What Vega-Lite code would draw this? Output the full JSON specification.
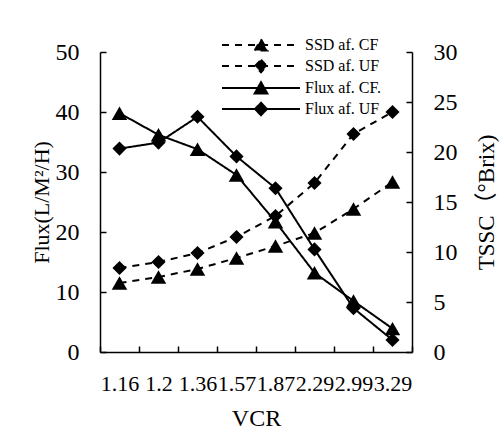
{
  "$schema": "https://vega.github.io/schema/vega-lite/v6.json",
  "width": 312,
  "height": 300,
  "autosize": {"type": "none"},
  "padding": {"left": 100, "top": 52, "right": 88, "bottom": 85},
  "background": "white",
  "data": {
    "values": [
      {"vcr": "1.16", "series": "Flux af. CF.", "axis": "Flux", "value": 39.8},
      {"vcr": "1.2", "series": "Flux af. CF.", "axis": "Flux", "value": 36.2},
      {"vcr": "1.36", "series": "Flux af. CF.", "axis": "Flux", "value": 33.8},
      {"vcr": "1.57", "series": "Flux af. CF.", "axis": "Flux", "value": 29.5},
      {"vcr": "1.87", "series": "Flux af. CF.", "axis": "Flux", "value": 21.7},
      {"vcr": "2.29", "series": "Flux af. CF.", "axis": "Flux", "value": 13.2},
      {"vcr": "2.99", "series": "Flux af. CF.", "axis": "Flux", "value": 8.5},
      {"vcr": "3.29", "series": "Flux af. CF.", "axis": "Flux", "value": 3.9},
      {"vcr": "1.16", "series": "Flux af. UF", "axis": "Flux", "value": 33.9},
      {"vcr": "1.2", "series": "Flux af. UF", "axis": "Flux", "value": 34.9},
      {"vcr": "1.36", "series": "Flux af. UF", "axis": "Flux", "value": 39.2},
      {"vcr": "1.57", "series": "Flux af. UF", "axis": "Flux", "value": 32.6},
      {"vcr": "1.87", "series": "Flux af. UF", "axis": "Flux", "value": 27.3},
      {"vcr": "2.29", "series": "Flux af. UF", "axis": "Flux", "value": 17.1},
      {"vcr": "2.99", "series": "Flux af. UF", "axis": "Flux", "value": 7.3},
      {"vcr": "3.29", "series": "Flux af. UF", "axis": "Flux", "value": 2.0},
      {"vcr": "1.16", "series": "SSD af. CF", "axis": "SSD", "value": 6.9},
      {"vcr": "1.2", "series": "SSD af. CF", "axis": "SSD", "value": 7.5},
      {"vcr": "1.36", "series": "SSD af. CF", "axis": "SSD", "value": 8.3},
      {"vcr": "1.57", "series": "SSD af. CF", "axis": "SSD", "value": 9.4},
      {"vcr": "1.87", "series": "SSD af. CF", "axis": "SSD", "value": 10.6},
      {"vcr": "2.29", "series": "SSD af. CF", "axis": "SSD", "value": 11.9},
      {"vcr": "2.99", "series": "SSD af. CF", "axis": "SSD", "value": 14.3},
      {"vcr": "3.29", "series": "SSD af. CF", "axis": "SSD", "value": 17.0},
      {"vcr": "1.16", "series": "SSD af. UF", "axis": "SSD", "value": 8.4},
      {"vcr": "1.2", "series": "SSD af. UF", "axis": "SSD", "value": 9.0},
      {"vcr": "1.36", "series": "SSD af. UF", "axis": "SSD", "value": 9.9},
      {"vcr": "1.57", "series": "SSD af. UF", "axis": "SSD", "value": 11.5},
      {"vcr": "1.87", "series": "SSD af. UF", "axis": "SSD", "value": 13.6},
      {"vcr": "2.29", "series": "SSD af. UF", "axis": "SSD", "value": 16.9},
      {"vcr": "2.99", "series": "SSD af. UF", "axis": "SSD", "value": 21.8},
      {"vcr": "3.29", "series": "SSD af. UF", "axis": "SSD", "value": 24.0}
    ]
  },
  "encoding": {
    "x": {
      "field": "vcr",
      "type": "ordinal",
      "sort": null,
      "bandPosition": 0.5,
      "scale": {"type": "band", "paddingInner": 0, "paddingOuter": 0},
      "axis": {
        "title": "VCR",
        "tickBand": "extent",
        "labelAngle": 0,
        "labelOverlap": false,
        "labelFontSize": 22,
        "labelPadding": 27,
        "titleFontSize": 24,
        "titlePadding": 12
      }
    }
  },
  "layer": [
    {
      "transform": [{"filter": "datum.axis === 'Flux'"}],
      "encoding": {
        "y": {
          "field": "value",
          "type": "quantitative",
          "scale": {"domain": [0, 50], "nice": false},
          "axis": {
            "orient": "left",
            "title": "Flux(L/M²/H)",
            "values": [0, 10, 20, 30, 40, 50],
            "labelFontSize": 24,
            "labelPadding": 27,
            "titleFontSize": 22,
            "titlePadding": 2
          }
        }
      },
      "layer": [
        {
          "mark": {"type": "line", "color": "black", "strokeWidth": 2},
          "encoding": {
            "strokeDash": {
              "field": "series",
              "type": "nominal",
              "scale": {
                "domain": ["SSD af. CF", "SSD af. UF", "Flux af. CF.", "Flux af. UF"],
                "range": [[7, 6], [7, 6], [1, 0], [1, 0]]
              },
              "legend": {
                "title": null,
                "orient": "none",
                "legendX": 150,
                "legendY": -18,
                "padding": 0,
                "rowPadding": -1,
                "symbolType": "M-3.9,0H3.9",
                "symbolSize": 400,
                "symbolStrokeWidth": 2,
                "symbolStrokeColor": "black",
                "symbolFillColor": "black",
                "labelFont": "Liberation Serif",
                "labelFontSize": 16,
                "labelColor": "black",
                "labelOffset": 33,
                "encode": {
                  "symbols": {
                    "update": {
                      "shape": {"signal": "(datum.value === 'SSD af. CF' || datum.value === 'Flux af. CF.') ? 'M-3.9,0H3.9M0,-0.58L0.64,0.56L-0.64,0.56Z' : 'M-3.9,0H3.9M0,-0.62L0.6,0L0,0.62L-0.6,0Z'"},
                      "fill": {"value": "black"},
                      "stroke": {"value": "black"},
                      "strokeWidth": {"value": 2},
                      "opacity": {"value": 1}
                    }
                  }
                }
              }
            }
          }
        },
        {
          "mark": {"type": "point", "filled": true, "color": "black", "opacity": 1},
          "encoding": {
            "shape": {"condition": {"test": "datum.series === 'SSD af. CF' || datum.series === 'Flux af. CF.'", "value": "triangle-up"}, "value": "diamond"},
            "size": {"condition": {"test": "datum.series === 'SSD af. CF' || datum.series === 'Flux af. CF.'", "value": 240}, "value": 200}
          }
        }
      ]
    },
    {
      "transform": [{"filter": "datum.axis === 'SSD'"}],
      "encoding": {
        "y": {
          "field": "value",
          "type": "quantitative",
          "scale": {"domain": [0, 30], "nice": false},
          "axis": {
            "orient": "right",
            "title": "TSSC（°Brix)",
            "values": [0, 5, 10, 15, 20, 25, 30],
            "labelFontSize": 24,
            "labelPadding": 27,
            "titleFontSize": 23,
            "titleAngle": 270,
            "titleBaseline": "top",
            "titlePadding": 18
          }
        }
      },
      "layer": [
        {
          "mark": {"type": "line", "color": "black", "strokeWidth": 2},
          "encoding": {
            "strokeDash": {"field": "series", "type": "nominal"}
          }
        },
        {
          "mark": {"type": "point", "filled": true, "color": "black", "opacity": 1},
          "encoding": {
            "shape": {"condition": {"test": "datum.series === 'SSD af. CF' || datum.series === 'Flux af. CF.'", "value": "triangle-up"}, "value": "diamond"},
            "size": {"condition": {"test": "datum.series === 'SSD af. CF' || datum.series === 'Flux af. CF.'", "value": 240}, "value": 200}
          }
        }
      ]
    }
  ],
  "resolve": {"scale": {"y": "independent"}},
  "config": {
    "view": {"stroke": null},
    "font": "Liberation Serif",
    "axis": {
      "grid": false,
      "domainColor": "black",
      "domainWidth": 1.5,
      "tickColor": "black",
      "tickWidth": 1.5,
      "tickSize": -6,
      "labelColor": "black",
      "titleColor": "black",
      "labelFont": "Liberation Serif",
      "titleFont": "Liberation Serif, Noto Sans CJK SC",
      "titleFontWeight": "normal"
    }
  }
}
